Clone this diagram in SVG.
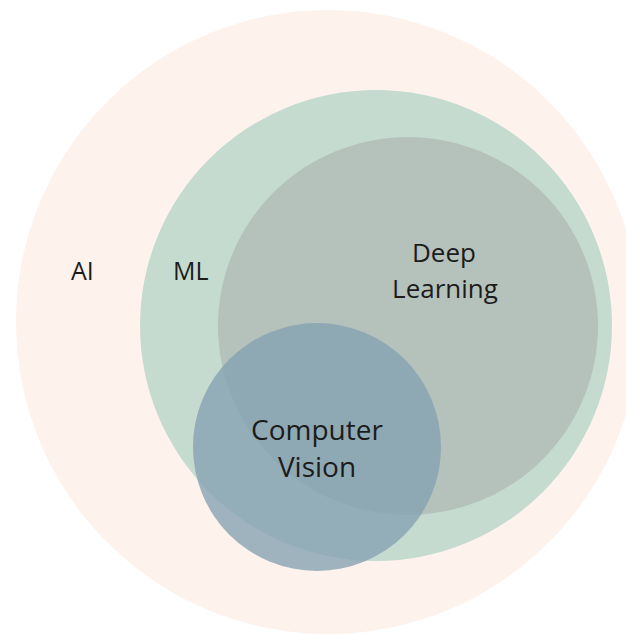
<svg xmlns="http://www.w3.org/2000/svg" width="626" height="635" viewBox="0 0 626 635">
  <style>
    .lbl { font-family: "Open Sans", "Noto Sans", "Liberation Sans", sans-serif; fill: #1c1c1c; }
  </style>
  <rect x="0" y="0" width="626" height="635" fill="#ffffff"/>
  <g id="ai">
    <circle cx="328" cy="322" r="312" fill="#fdf2ec"/>
    <text class="lbl" x="71" y="280" font-size="25">AI</text>
  </g>
  <g id="ml">
    <ellipse cx="376" cy="325.5" rx="236" ry="235.5" fill="#c5dbd0"/>
    <text class="lbl" x="173" y="280" font-size="25">ML</text>
  </g>
  <g id="deep-learning">
    <ellipse cx="408" cy="326" rx="190" ry="189" fill="#b5c1bb"/>
    <text class="lbl" x="444" y="262" font-size="26" text-anchor="middle">Deep</text>
    <text class="lbl" x="445" y="298" font-size="26" text-anchor="middle">Learning</text>
  </g>
  <g id="computer-vision">
    <circle cx="317" cy="447" r="124" fill="#86a3b3" fill-opacity="0.8"/>
    <text class="lbl" x="317" y="440" font-size="28" text-anchor="middle">Computer</text>
    <text class="lbl" x="317" y="477" font-size="28" text-anchor="middle">Vision</text>
  </g>
  <g id="connectors"></g>
</svg>
